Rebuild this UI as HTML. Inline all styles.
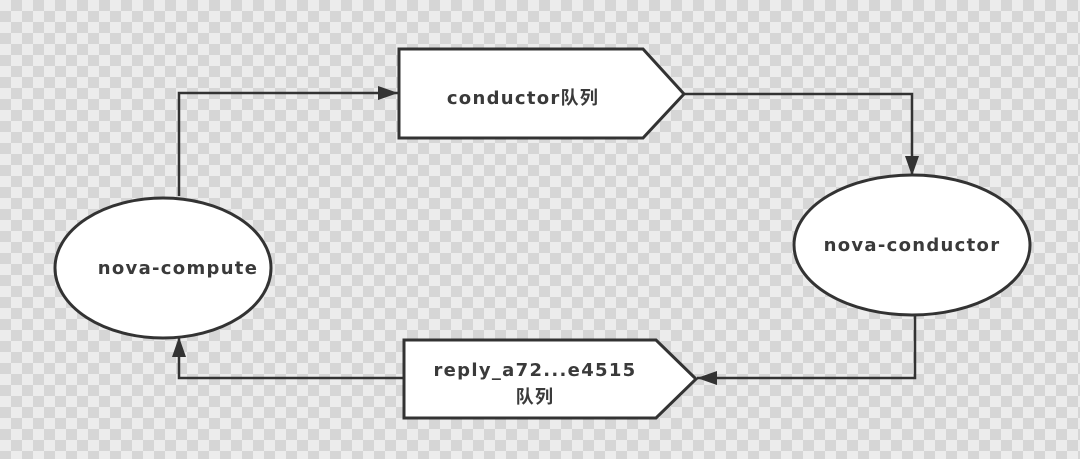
<!DOCTYPE html>
<html><head><meta charset="utf-8"><style>
html,body{margin:0;padding:0;width:1080px;height:459px;overflow:hidden}
body{background-color:#ececec;background-image:linear-gradient(45deg,#d6d6d6 25%,transparent 25%,transparent 75%,#d6d6d6 75%),linear-gradient(45deg,#d6d6d6 25%,transparent 25%,transparent 75%,#d6d6d6 75%);background-size:22px 22px;background-position:0 0,11px 11px}
text{font-family:"DejaVu Sans","Noto Sans CJK SC",sans-serif;font-weight:bold;fill:#3a3a3a;font-size:18px;letter-spacing:1.3px}
</style></head><body>
<svg width="1080" height="459" xmlns="http://www.w3.org/2000/svg">
<defs>
<marker id="b" viewBox="0 0 20 14" markerWidth="20" markerHeight="14" refX="20" refY="7" orient="auto" markerUnits="userSpaceOnUse"><path d="M0,0 L20,7 L0,14 z" fill="#333"/></marker></defs>
<g stroke="#333" stroke-width="2.5" fill="none">
<polyline points="179,196 179,93 398,93" marker-end="url(#b)"/>
<polyline points="684,94 912,94 912,176" marker-end="url(#b)"/>
<polyline points="915,312 915,378 697,378" marker-end="url(#b)"/>
<polyline points="404,378 179,378 179,337" marker-end="url(#b)"/>
</g>
<g stroke="#333" stroke-width="3" fill="#fff">
<polygon points="399,49 643,49 684,94 643,138 399,138"/>
<polygon points="404,340 656,340 696,379 656,418 404,418"/>
<ellipse cx="163" cy="268" rx="108" ry="70"/>
<ellipse cx="912" cy="245" rx="118" ry="70"/>
</g>
<text x="523" y="104" text-anchor="middle">conductor队列</text>
<text x="535" y="376" text-anchor="middle">reply_a72...e4515</text>
<text x="535" y="403" text-anchor="middle">队列</text>
<text x="178" y="274" text-anchor="middle">nova-compute</text>
<text x="912" y="251" text-anchor="middle">nova-conductor</text>
</svg>
</body></html>
